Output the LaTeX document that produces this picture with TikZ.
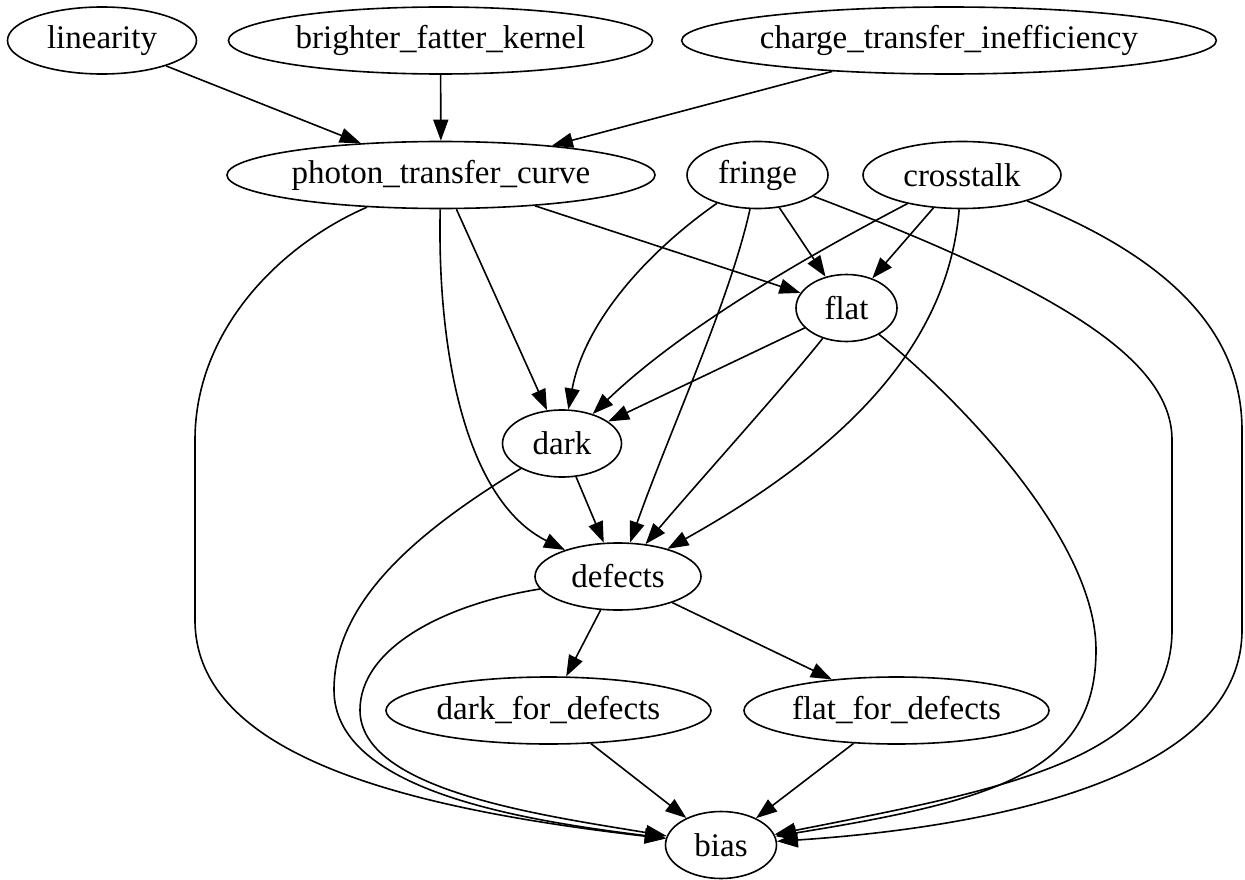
\documentclass[tikz,border=0pt]{standalone}
\usepackage{fontspec}
\setmainfont{Liberation Serif}
\usetikzlibrary{shapes.geometric,arrows.meta}

\begin{document}
\begin{tikzpicture}[x=1pt,y=-1pt,
    task/.style={ellipse, draw, line width=1.6pt, inner sep=0pt, minimum height=67pt,
      font=\fontsize{33}{40}\selectfont},
    edge/.style={line width=1.6pt, -{Triangle[length=21pt,width=15pt]}}]
  \useasboundingbox (0,0) rectangle (1245,880);
  % nodes, one rank per row
  \node[task, minimum width=189pt] (linearity) at (102,40.5) {linearity};
  \node[task, minimum width=424pt] (bfk) at (440.5,40.5) {brighter\_fatter\_kernel};
  \node[task, minimum width=529pt] (cti) at (949,40.5) {charge\_transfer\_inefficiency};
  \node[task, minimum width=428pt] (ptc) at (441,175) {photon\_transfer\_curve};
  \node[task, minimum width=141pt] (fringe) at (757.5,175) {fringe};
  \node[task, minimum width=198pt] (crosstalk) at (962,175) {crosstalk};
  \node[task, minimum width=101pt] (flat) at (846.5,308) {flat};
  \node[task, minimum width=119pt] (dark) at (562,443.5) {dark};
  \node[task, minimum width=166pt] (defects) at (618,576.5) {defects};
  \node[task, minimum width=325pt] (darkdef) at (548.5,710.5) {dark\_for\_defects};
  \node[task, minimum width=305pt] (flatdef) at (896.5,710.5) {flat\_for\_defects};
  \node[task, minimum width=111pt] (bias) at (721,845) {bias};
  % top rank
  \draw[edge] (linearity) -- (ptc);
  \draw[edge] (bfk) -- (ptc);
  \draw[edge] (cti) -- (ptc);
  % photon_transfer_curve
  \draw[edge] (ptc) .. controls (280,245) and (195,330) .. (195,440) -- (195,620)
    .. controls (195,760) and (420,810) .. (bias);
  \draw[edge] (ptc) -- (dark);
  \draw[edge] (ptc) .. controls (437,350) and (465,500) .. (defects);
  \draw[edge] (ptc) -- (flat);
  % fringe
  \draw[edge] (fringe) .. controls (650,250) and (585,320) .. (dark);
  \draw[edge] (fringe) .. controls (730,300) and (670,430) .. (defects);
  \draw[edge] (fringe) -- (flat);
  \draw[edge] (fringe) .. controls (1060,290) and (1172,360) .. (1172,440) -- (1172,630)
    .. controls (1172,760) and (1000,790) .. (bias);
  % crosstalk
  \draw[edge] (crosstalk) .. controls (800,260) and (680,330) .. (dark);
  \draw[edge] (crosstalk) -- (flat);
  \draw[edge] (crosstalk) .. controls (950,320) and (880,430) .. (defects);
  \draw[edge] (crosstalk) .. controls (1150,250) and (1242,320) .. (1242,430) -- (1242,630)
    .. controls (1242,790) and (950,830) .. (bias);
  % flat
  \draw[edge] (flat) -- (dark);
  \draw[edge] (flat) .. controls (790,380) and (700,480) .. (defects);
  \draw[edge] (flat) .. controls (960,400) and (1096,540) .. (1096,650)
    .. controls (1096,770) and (1000,800) .. (bias);
  % dark
  \draw[edge] (dark) -- (defects);
  \draw[edge] (dark) .. controls (420,530) and (334,600) .. (334,690)
    .. controls (334,790) and (520,820) .. (bias);
  % defects
  \draw[edge] (defects) -- (darkdef);
  \draw[edge] (defects) -- (flatdef);
  \draw[edge] (defects) .. controls (440,605) and (360,650) .. (360,710)
    .. controls (360,790) and (540,815) .. (bias);
  % bottom rank
  \draw[edge] (darkdef) -- (bias);
  \draw[edge] (flatdef) -- (bias);
\end{tikzpicture}
\end{document}
